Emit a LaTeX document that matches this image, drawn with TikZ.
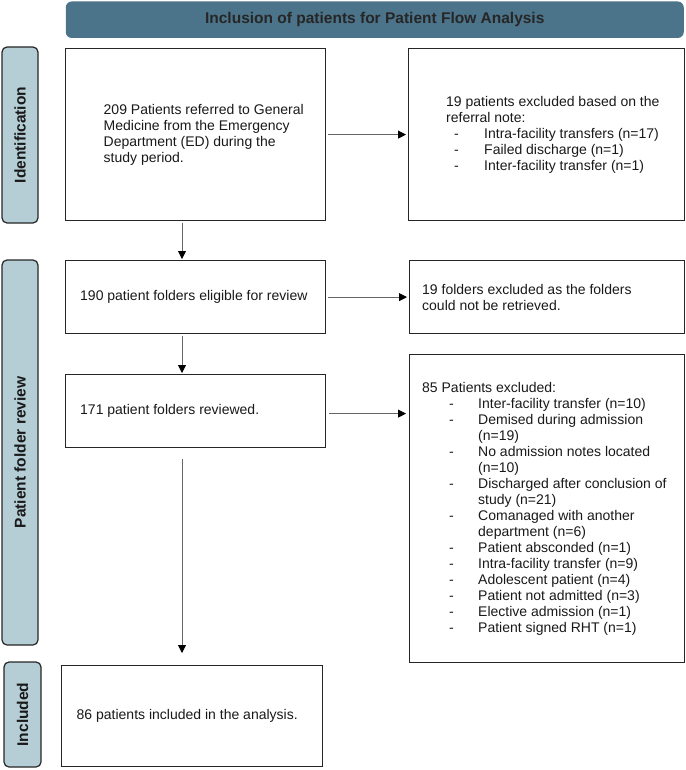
\documentclass[tikz,border=0pt]{standalone}
\usepackage{fontspec}
\setmainfont{Liberation Sans}
\usetikzlibrary{arrows.meta}

\definecolor{bannerblue}{RGB}{75,115,137}
\definecolor{sidebarblue}{RGB}{181,205,213}

% dash item: indent, gap to text, text
\newcommand{\exitem}[3]{\hspace*{#1}\makebox[#2][l]{-}#3}

\tikzset{
  box/.style={draw=black!85, line width=1.2pt, anchor=north west, inner sep=0pt},
  txt/.style={anchor=west, align=left, inner sep=0pt, text=black!90,
    font=\fontsize{14}{16}\selectfont},
  side/.style={draw=black!85, line width=1.2pt, fill=sidebarblue, rounded corners=5pt,
    rotate=90, text=black!90, font=\fontsize{15.5}{18}\selectfont\bfseries},
  flow/.style={draw=black!60, line width=0.8pt, -{Triangle[length=8pt,width=8pt,color=black]}}
}

\begin{document}
\begin{tikzpicture}[x=1pt,y=-1pt]

\useasboundingbox (0,0) rectangle (685,770);

% Title banner
\node[fill=bannerblue, rounded corners=6pt, minimum width=618pt, minimum height=36.5pt,
  text=black!85, font=\fontsize{15.5}{18}\selectfont\bfseries] (title) at (374.75,19.75)
  {Inclusion of patients for Patient Flow Analysis};

% Side labels
\node[side, minimum width=176pt, minimum height=36pt] (ident) at (20,135) {Identification};
\node[side, minimum width=385pt, minimum height=36pt] (review) at (20,452.5) {Patient folder review};
\node[side, minimum width=105pt, minimum height=37pt] (incl) at (22.5,714.5) {Included};

% Boxes
\node[box, minimum width=260pt, minimum height=172pt] (referred) at (65,48) {};
\node[box, minimum width=276pt, minimum height=172pt] (exnote) at (408,48) {};
\node[box, minimum width=260pt, minimum height=73pt] (eligible) at (65,260) {};
\node[box, minimum width=275pt, minimum height=73pt] (exfolder) at (409,260) {};
\node[box, minimum width=260pt, minimum height=73pt] (reviewed) at (65,374) {};
\node[box, minimum width=275pt, minimum height=308pt] (expat) at (409,354) {};
\node[box, minimum width=261pt, minimum height=101pt] (included) at (61,665) {};

% Texts
\node[txt] (referredtxt) at ([xshift=38.5pt]referred.west)
  {209 Patients referred to General\\Medicine from the Emergency\\Department (ED) during the\\study period.};
\node[txt] (exnotetxt) at ([xshift=38pt]exnote.west)
  {19 patients excluded based on the\\referral note:\\
   \exitem{8pt}{30pt}{Intra-facility transfers (n=17)}\\
   \exitem{8pt}{30pt}{Failed discharge (n=1)}\\
   \exitem{8pt}{30pt}{Inter-facility transfer (n=1)}};
\node[txt] (eligibletxt) at ([xshift=15pt]eligible.west) {190 patient folders eligible for review};
\node[txt] (exfoldertxt) at ([xshift=13pt]exfolder.west)
  {19 folders excluded as the folders\\could not be retrieved.};
\node[txt] (reviewedtxt) at ([xshift=15pt]reviewed.west) {171 patient folders reviewed.};
\node[txt] (expattxt) at ([xshift=13pt]expat.west)
  {85 Patients excluded:\\
   \exitem{27pt}{29pt}{Inter-facility transfer (n=10)}\\
   \exitem{27pt}{29pt}{Demised during admission}\\
   \hspace*{56pt}(n=19)\\
   \exitem{27pt}{29pt}{No admission notes located}\\
   \hspace*{56pt}(n=10)\\
   \exitem{27pt}{29pt}{Discharged after conclusion of}\\
   \hspace*{56pt}study (n=21)\\
   \exitem{27pt}{29pt}{Comanaged with another}\\
   \hspace*{56pt}department (n=6)\\
   \exitem{27pt}{29pt}{Patient absconded (n=1)}\\
   \exitem{27pt}{29pt}{Intra-facility transfer (n=9)}\\
   \exitem{27pt}{29pt}{Adolescent patient (n=4)}\\
   \exitem{27pt}{29pt}{Patient not admitted (n=3)}\\
   \exitem{27pt}{29pt}{Elective admission (n=1)}\\
   \exitem{27pt}{29pt}{Patient signed RHT (n=1)}};
\node[txt] (includedtxt) at ([xshift=15.5pt]included.west) {86 patients included in the analysis.};

% Arrows
\coordinate (ax) at (182,0);
\draw[flow, shorten <=1.5pt, shorten >=1pt] (referred.south -| ax) -- (eligible.north -| ax);
\draw[flow, shorten <=1.5pt, shorten >=1pt] (eligible.south -| ax) -- (reviewed.north -| ax);
\draw[flow, shorten <=11pt, shorten >=12pt] (reviewed.south -| ax) -- (included.north -| ax);
\foreach \a/\b in {referred/exnote, eligible/exfolder} {
    \draw[flow, shorten <=2pt, shorten >=2pt] (\a.east) -- (\b.west);
}
\draw[flow, shorten <=3pt, shorten >=3pt] ([yshift=-2.5pt]reviewed.east) -- ([yshift=-2.5pt]reviewed.east -| expat.west);

\end{tikzpicture}
\end{document}
